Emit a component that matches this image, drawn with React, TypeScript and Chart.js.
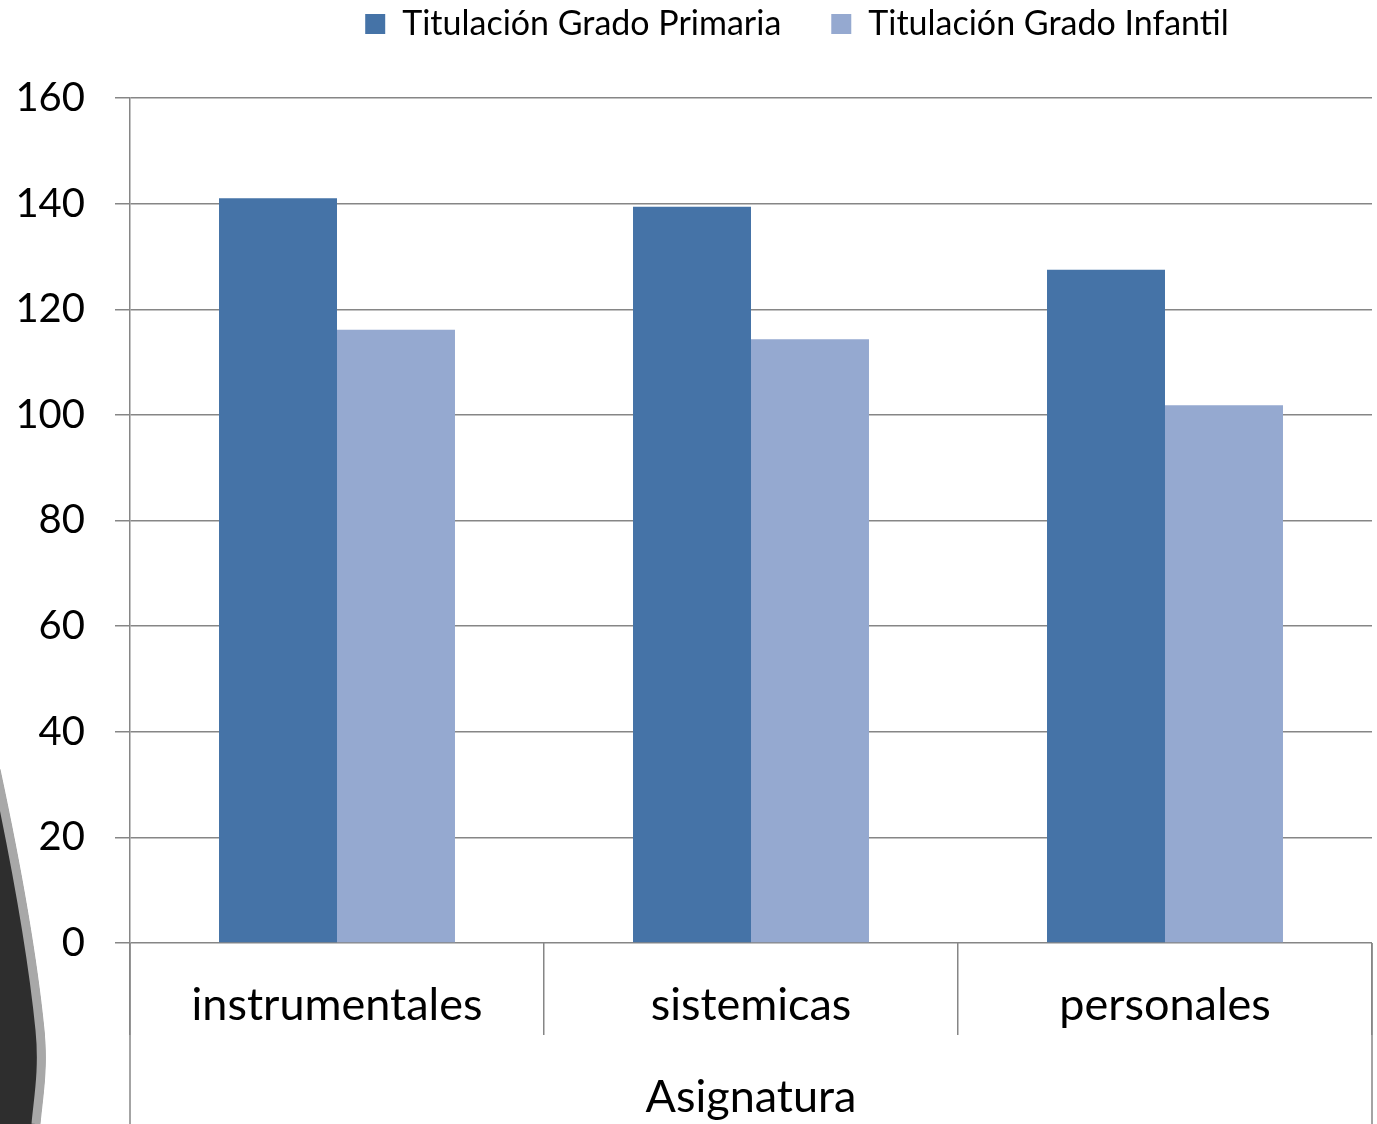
import { useEffect, useRef } from "react";
import { Chart, registerables } from "chart.js";

Chart.register(...registerables);

const categories = ["instrumentales", "sistemicas", "personales"];
const seriesNames = ["Titulación Grado Primaria", "Titulación Grado Infantil"];
const primaria = [141, 139.4, 127.5];
const infantil = [116.1, 114.3, 101.8];
const axisTitle = "Asignatura";
const yMin = 0;
const yMax = 160;
const yStep = 20;

const COLOR_PRIMARIA = "#4573A7";
const COLOR_INFANTIL = "#95A9D0";
const GRID = "#868686";
const FONT = "Lato, 'Noto Sans', sans-serif";

export default function App() {
  const ref = useRef<HTMLCanvasElement | null>(null);

  useEffect(() => {
    document.body.style.margin = "0";
    const canvas = ref.current;
    if (!canvas) return;

    const decor = {
      id: "decor",
      beforeDraw(chart: any) {
        const ctx = chart.ctx;
        ctx.save();
        ctx.beginPath();
        ctx.moveTo(0, 770);
        ctx.bezierCurveTo(15, 840, 35, 940, 44, 1030);
        ctx.bezierCurveTo(48, 1070, 42, 1100, 40, 1124);
        ctx.lineTo(0, 1124);
        ctx.closePath();
        ctx.fillStyle = "#2e2e2e";
        ctx.fill();
        ctx.lineWidth = 9;
        ctx.strokeStyle = "#a8a8a8";
        ctx.beginPath();
        ctx.moveTo(-4, 770);
        ctx.bezierCurveTo(11, 840, 31, 940, 40, 1030);
        ctx.bezierCurveTo(44, 1070, 38, 1100, 36, 1124);
        ctx.stroke();
        ctx.restore();
      },
    };

    const extraLines = {
      id: "extraLines",
      afterDraw(chart: any) {
        const xs = chart.scales.x;
        const ctx = chart.ctx;
        ctx.save();
        ctx.strokeStyle = GRID;
        ctx.lineWidth = 1.5;
        [xs.left, xs.right].forEach((x: number) => {
          ctx.beginPath();
          ctx.moveTo(x, xs.top);
          ctx.lineTo(x, xs.bottom);
          ctx.stroke();
        });
        ctx.restore();
      },
    };

    const shiftLegend = {
      id: "shiftLegend",
      afterLayout(chart: any) {
        const lg = chart.legend;
        if (!lg) return;
        lg.left += 111;
        lg.right += 111;
        lg.top -= 47;
        lg.bottom -= 47;
      },
    };

    const chart = new Chart(canvas, {
      type: "bar",
      data: {
        labels: categories,
        datasets: [
          {
            label: seriesNames[0],
            data: primaria,
            backgroundColor: COLOR_PRIMARIA,
            borderWidth: 0,
            categoryPercentage: 0.57,
            barPercentage: 1.0,
          },
          {
            label: seriesNames[1],
            data: infantil,
            backgroundColor: COLOR_INFANTIL,
            borderWidth: 0,
            categoryPercentage: 0.57,
            barPercentage: 1.0,
          },
        ],
      },
      options: {
        responsive: false,
        animation: false,
        layout: { padding: { left: 0, right: 5, top: 4, bottom: 0 } },
        plugins: {
          tooltip: { enabled: false },
          legend: {
            display: true,
            position: "top",
            labels: {
              boxWidth: 20,
              boxHeight: 20,
              padding: 50,
              color: "#000",
              font: { family: FONT, size: 34 },
            },
          },
        },
        scales: {
          x: {
            grid: {
              offset: true,
              drawOnChartArea: false,
              tickLength: 92,
              color: GRID,
              lineWidth: 1.5,
            },
            border: { display: false },
            ticks: {
              color: "#000",
              font: { family: FONT, size: 45 },
              padding: -57,
              maxRotation: 0,
              autoSkip: false,
            },
            title: {
              display: true,
              text: axisTitle,
              color: "#000",
              font: { family: FONT, size: 45 },
              padding: { top: 0, bottom: 0 },
            },
            afterFit(s: any) {
              s.height = 181;
            },
          },
          y: {
            min: yMin,
            max: yMax,
            ticks: {
              stepSize: yStep,
              color: "#000",
              font: { family: FONT, size: 40 },
              padding: 30,
            },
            grid: { color: GRID, lineWidth: 1.5, tickLength: 15 },
            border: { display: true, color: GRID, width: 1.5 },
            afterFit(s: any) {
              s.width = 130;
            },
          },
        },
      },
      plugins: [decor, extraLines, shiftLegend],
    } as any);

    return () => chart.destroy();
  }, []);

  return (
    <div style={{ width: 1377, height: 1124, background: "#fff" }}>
      <canvas ref={ref} width={1377} height={1124} style={{ display: "block" }} />
    </div>
  );
}
